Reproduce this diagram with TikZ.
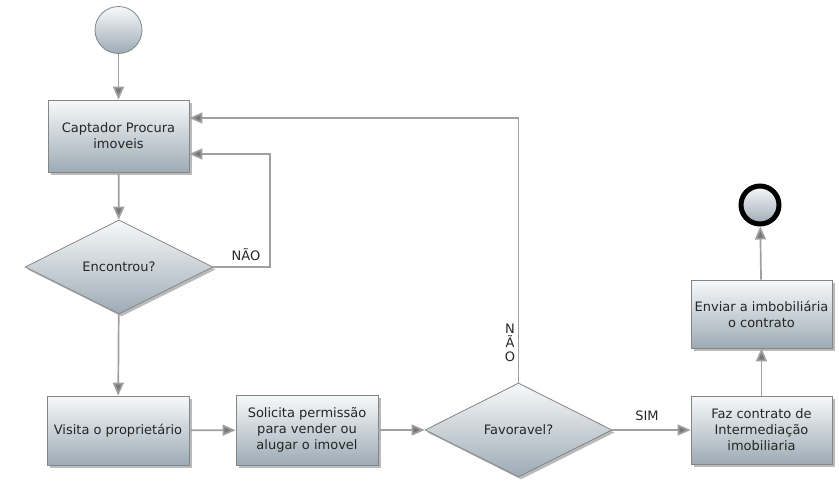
\documentclass[tikz,border=0pt]{standalone}
\usepackage{fontspec}
\setmainfont{DejaVu Sans}
\usetikzlibrary{shapes.geometric,arrows.meta,shadows,calc}
\definecolor{linegray}{HTML}{A0A0A0}
\definecolor{tipgray}{HTML}{787878}
\definecolor{bordergray}{HTML}{858585}
\definecolor{topfill}{HTML}{F7F9FA}
\definecolor{botfill}{HTML}{9DABB5}
\begin{document}
\begin{tikzpicture}[x=1pt,y=-1pt,
  font=\fontsize{13}{16}\selectfont,
  every node/.style={text=black!85},
  flowbox/.style={rectangle,draw=bordergray,line width=0.8pt,top color=topfill,bottom color=botfill,
    inner sep=2pt,align=center,
    drop shadow={shadow xshift=2.5pt,shadow yshift=-2.5pt,opacity=0.45,fill=black!60}},
  decision/.style={diamond,draw=bordergray,line width=0.8pt,top color=topfill,bottom color=botfill,
    inner sep=0pt,align=center,
    drop shadow={shadow xshift=2.5pt,shadow yshift=-2.5pt,opacity=0.45,fill=black!60}},
  conn/.style={draw=linegray,line width=1.7pt,-{Triangle[length=13pt,width=11pt,fill=tipgray]}},
  lbl/.style={font=\fontsize{13}{14}\selectfont,inner sep=0pt,align=center}
]
\fill[white] (0,0) rectangle (839,490);
\useasboundingbox (0,0) rectangle (839,490);

\node[circle,draw=bordergray,line width=0.8pt,top color=topfill,bottom color=botfill,minimum size=47pt,inner sep=0pt] (start) at (118.5,30) {};
\node[flowbox,minimum width=141pt,minimum height=72pt] (cap) at (118.5,136) {Captador Procura\\imoveis};
\node[decision,minimum width=188pt,minimum height=94pt] (enc) at (119,267) {Encontrou?};
\node[flowbox,minimum width=142pt,minimum height=69pt] (vis) at (118,430.5) {Visita o proprietário};
\node[flowbox,minimum width=142pt,minimum height=70pt] (sol) at (307,430) {Solicita permissão\\para vender ou\\alugar o imovel};
\node[decision,minimum width=187pt,minimum height=94pt] (fav) at (518.5,430) {Favoravel?};
\node[flowbox,minimum width=141pt,minimum height=68pt] (faz) at (761.5,430) {Faz contrato de\\Intermediação\\imobiliaria};
\node[flowbox,minimum width=141pt,minimum height=68pt] (env) at (761.5,314) {Enviar a imbobiliária\\o contrato};
\node[circle,draw=black,line width=5pt,top color=topfill,bottom color=botfill,minimum size=38pt,inner sep=0pt,
  drop shadow={shadow xshift=1.5pt,shadow yshift=-1.5pt,opacity=0.4,fill=black!60}] (end) at (760,205) {};

\coordinate (l1a) at (270,267);
\coordinate (l1b) at (270,154);
\coordinate (l2a) at (518.5,118);

\draw[conn] (start) -- (cap);
\draw[conn] (cap) -- (enc);
\draw[conn] (enc.east) -- (l1a) -- (l1b) -- (cap.east |- l1b);
\draw[conn] (enc) -- (vis);
\draw[conn] (vis) -- (sol);
\draw[conn] (sol) -- (fav);
\draw[conn] (fav) -- (faz);
\draw[conn] (fav.north) -- (l2a) -- (cap.east |- l2a);
\draw[conn] (faz) -- (env);
\draw[conn] (env) -- (end);

\node[lbl] (nao1) at (246,255) {NÃO};
\node[lbl] (nao2) at (510,343) {N\\Ã\\O};
\node[lbl] (sim) at (647,416) {SIM};
\end{tikzpicture}
\end{document}
